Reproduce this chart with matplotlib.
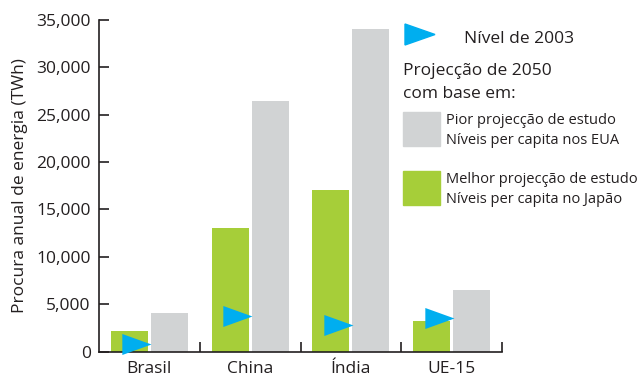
import numpy as np
import matplotlib.pyplot as plt
from matplotlib.patches import Rectangle
from matplotlib.path import Path

plt.rcParams['font.family'] = ['Open Sans', 'DejaVu Sans']

countries = ["Brasil", "China", "Índia", "UE-15"]
best_2050 = [2200, 13000, 17000, 3200]      # Japan per-capita levels
worst_2050 = [4100, 26500, 34000, 6500]     # US per-capita levels
level_2003 = [750, 3800, 2800, 3500]
yticks = [0, 5000, 10000, 15000, 20000, 25000, 30000, 35000]

GREEN = "#a6ce39"
GREY = "#d1d3d4"
BLUE = "#00aeef"
INK = "#231f20"

W, H = 642, 378
fig = plt.figure(figsize=(W / 100, H / 100), dpi=100)
ax = fig.add_axes([99 / W, (H - 351.5) / H, 403 / W, 331.5 / H])

x = np.arange(len(countries))
bw = 0.366
off = 0.198
ax.bar(x - off, best_2050, bw, color=GREEN, zorder=2)
ax.bar(x + off, worst_2050, bw, color=GREY, zorder=2)

# right-pointing arrowhead with its tip on the data point
tip = Path([(-1, -0.36), (0, 0), (-1, 0.36), (-1, -0.36)],
           [Path.MOVETO, Path.LINETO, Path.LINETO, Path.CLOSEPOLY])
ax.plot(x + 0.02, level_2003, ls="none", marker=tip, ms=42,
        color=BLUE, mec="none", zorder=3, clip_on=False)

ax.set_xlim(-0.5, 3.5)
ax.set_ylim(0, 35000)
ax.set_yticks(yticks)
ax.set_yticklabels([f"{v:,}" for v in yticks])
ax.set_xticks(x)
ax.set_xticklabels(countries)
ax.tick_params(axis="x", length=0, pad=7, labelsize=12.5, colors=INK)
ax.tick_params(axis="y", direction="in", length=7, width=1.2, pad=6,
               labelsize=12.5, colors=INK)
# small upward ticks between the country groups
ax.set_xticks(np.arange(0.5, 4.0, 1.0), minor=True)
ax.tick_params(axis="x", which="minor", direction="in", length=7,
               width=1.2, color=INK)

for s in ["top", "right"]:
    ax.spines[s].set_visible(False)
for s in ["left", "bottom"]:
    ax.spines[s].set_color(INK)
    ax.spines[s].set_linewidth(1.2)

ax.set_ylabel("Procura anual de energia (TWh)", fontsize=12.5, color=INK,
              labelpad=6)


def fy(py):
    return 1 - py / H


# legend block
fig.add_artist(plt.Polygon([(405 / W, fy(24)), (435 / W, fy(34.5)),
                            (405 / W, fy(45))], closed=True, color=BLUE,
                           transform=fig.transFigure))
fig.text(464 / W, fy(43), "Nível de 2003", fontsize=12.5, color=INK,
         va="baseline")
fig.text(403 / W, fy(75), "Projecção de 2050", fontsize=12.5, color=INK,
         va="baseline")
fig.text(403 / W, fy(98), "com base em:", fontsize=12.5, color=INK,
         va="baseline")

fig.add_artist(Rectangle((403 / W, fy(146)), 37 / W, 34 / H, color=GREY,
                         transform=fig.transFigure))
fig.text(446 / W, fy(124), "Pior projecção de estudo", fontsize=10.5,
         color=INK, va="baseline")
fig.text(446 / W, fy(144), "Níveis per capita nos EUA", fontsize=10.5,
         color=INK, va="baseline")

fig.add_artist(Rectangle((403 / W, fy(205)), 37 / W, 34 / H, color=GREEN,
                         transform=fig.transFigure))
fig.text(446 / W, fy(183), "Melhor projecção de estudo", fontsize=10.5,
         color=INK, va="baseline")
fig.text(446 / W, fy(203), "Níveis per capita no Japão", fontsize=10.5,
         color=INK, va="baseline")

fig.savefig("out.png", dpi=100)
